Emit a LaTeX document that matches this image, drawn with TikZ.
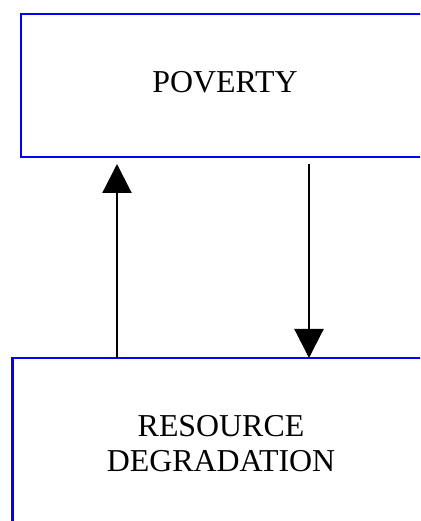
\documentclass[tikz,border=0pt]{standalone}
\usepackage{fontspec}
\setmainfont{Liberation Serif}
\usetikzlibrary{arrows.meta}
\definecolor{boxblue}{RGB}{0,0,255}
\begin{document}
\begin{tikzpicture}[x=1bp,y=1bp,
  frame/.style={draw=boxblue,rectangle,inner sep=0pt,outer sep=0pt},
  label/.style={font=\fontsize{32}{35.5}\selectfont,align=center,inner sep=0pt},
  flow/.style={line width=2.2bp,-{Triangle[width=29bp,length=29bp]}}]
  \useasboundingbox (0,0) rectangle (420,521);
  \clip (0,0) rectangle (420,521);
  % upper box
  \node[frame,line width=2.8bp,minimum width=410bp,minimum height=143bp] (top) at (226,435.5) {};
  \node[label] (povlabel) at (225,439) {POVERTY};
  % lower box, running off the page
  \node[frame,line width=2.1bp,minimum width=418bp,minimum height=182bp] (bot) at (221.5,72) {};
  \node[label] (reslabel) at (221,77.5) {RESOURCE\\DEGRADATION};
  % the two arrows of the cycle
  \draw[flow] (bot.north -| 117,0) -- ([yshift=-7bp]top.south -| 117,0);
  \draw[flow] ([yshift=-7.5bp]top.south -| 309,0) -- (bot.north -| 309,0);
\end{tikzpicture}
\end{document}
